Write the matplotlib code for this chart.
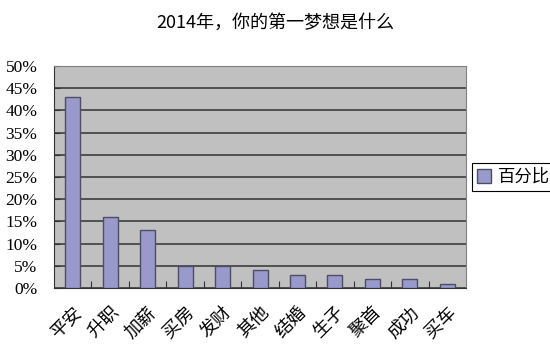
import matplotlib.pyplot as plt
import numpy as np
from matplotlib.ticker import FixedLocator

# 纵轴百分比用衬线字体，中文用思源黑体
plt.rcParams['font.family'] = 'serif'
plt.rcParams['font.serif'] = ['Liberation Serif', 'DejaVu Serif']
cjk = ['Noto Sans CJK SC', 'DejaVu Sans']

# 各个梦想所占百分比
dreams = ['平安', '升职', '加薪', '买房', '发财', '其他', '结婚', '生子', '聚首', '成功', '买车']
percent = [43, 16, 13, 5, 5, 4, 3, 3, 2, 2, 1]
y_ticks = [0, 5, 10, 15, 20, 25, 30, 35, 40, 45, 50]

fig = plt.figure(figsize=(5.5, 3.48), dpi=100)
ax = fig.add_axes([0.0982, 0.1724, 0.7491, 0.6379])
ax.set_facecolor('#c0c0c0')

x = np.arange(len(dreams))
ax.bar(x, percent, width=0.4, color='#9999cc', edgecolor='#4d4d66',
       linewidth=1.0, label='百分比', zorder=3)

ax.set_xlim(-0.5, len(dreams) - 0.5)
ax.set_ylim(0, 50)

# 横向网格线
ax.set_yticks(y_ticks)
ax.set_yticklabels(['%d%%' % v for v in y_ticks], fontsize=12.5)
ax.yaxis.grid(True, color='#333333', linewidth=1.1, zorder=0)
ax.tick_params(axis='y', length=4, width=0.8, color='#333333', direction='in', pad=12)

# 分类刻度放在组间
ax.set_xticks(x)
ax.set_xticklabels(dreams, rotation=45, ha='right', rotation_mode='anchor',
                   fontsize=13, family=cjk)
ax.tick_params(axis='x', which='major', length=0, pad=11)
ax.xaxis.set_minor_locator(FixedLocator(np.arange(0.5, len(dreams) - 0.5, 1)))
ax.tick_params(axis='x', which='minor', direction='in', length=5, width=0.8, color='#333333')

for side in ['top', 'right']:
    ax.spines[side].set_color('#808080')
for side in ['left', 'bottom']:
    ax.spines[side].set_color('#333333')

fig.text(0.5, 0.935, '2014年，你的第一梦想是什么', ha='center', va='center',
         fontsize=13, family=cjk)

leg = fig.legend(loc='upper left', bbox_to_anchor=(0.858, 0.532),
                 prop={'family': cjk, 'size': 12.5},
                 frameon=True, fancybox=False, edgecolor='black', framealpha=1,
                 handlelength=0.8, handleheight=0.8, handletextpad=0.4,
                 borderpad=0.3, borderaxespad=0)
leg.get_frame().set_linewidth(0.8)

fig.savefig('out.png', dpi=100)
